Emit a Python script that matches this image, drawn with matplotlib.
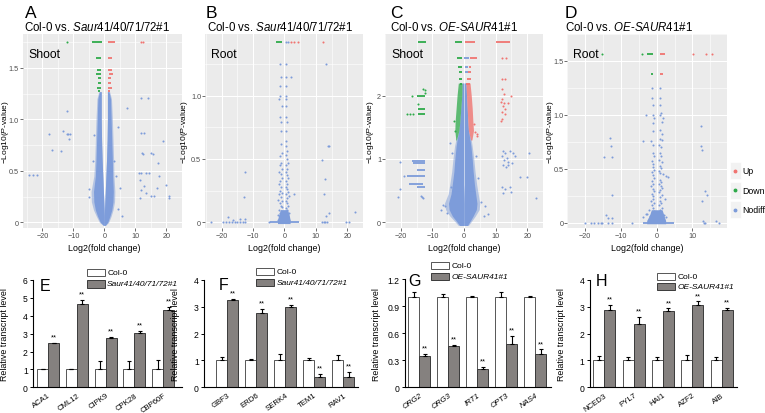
import matplotlib
matplotlib.use('Agg')
import matplotlib.pyplot as plt
import numpy as np
from matplotlib.patches import Rectangle
from matplotlib.lines import Line2D

# ---------------- DATA ----------------
# Panel A (Shoot, Col-0 vs Saur41/40/71/72#1)
A_core_y  = [1.27, 1.2, 1.0, 0.8, 0.6, 0.45, 0.3, 0.2, 0.12, 0.06, 0.0, -0.03]
A_core_lo = [-1.8, -2.4, -2.7, -2.9, -3.1, -3.4, -4.3, -4.2, -3.5, -2.6, -1.6, -0.4]
A_core_li = [-1.0, -1.0, -1.0, -0.9, -0.7, -0.5, -0.3, -0.15, -0.05, 0, 0, 0]
A_core_ri = [1.0, 1.0, 1.0, 0.9, 0.7, 0.5, 0.3, 0.15, 0.05, 0, 0, 0]
A_core_ro = [1.7, 2.3, 2.6, 2.8, 3.0, 3.1, 3.4, 3.3, 2.8, 2.2, 1.4, 0.4]
A_dense_lo = [-1.6, -2.1, -2.3, -2.5, -2.7, -2.9, -3.5, -3.4, -2.9, -2.2, -1.3, -0.3]
A_dense_ro = [1.5, 2.0, 2.2, 2.4, 2.6, 2.7, 2.9, 2.8, 2.4, 1.8, 1.1, 0.3]
A_down_row_y  = [1.756, 1.60, 1.48, 1.44, 1.40, 1.35, 1.31, 1.28]
A_down_row_x0 = [-3.9, -2.6, -2.4, -2.7, -1.9, -1.9, -2.4, -2.1]
A_down_row_x1 = [-0.8, -1.1, -1.1, -1.1, -1.1, -1.1, -1.1, -1.3]
A_up_row_y  = [1.756, 1.60, 1.48, 1.44, 1.40, 1.35, 1.31, 1.28]
A_up_row_x0 = [1.2, 1.2, 1.2, 1.4, 1.2, 1.2, 1.2, 1.2]
A_up_row_x1 = [3.3, 2.5, 2.5, 2.8, 2.3, 2.3, 2.5, 1.8]
A_down_x = [-12.0]
A_down_y = [1.756]
A_up_x = [11.8, 12.4]
A_up_y = [1.756, 1.756]
A_blue_x = [-12.2, -18.0, -13.4, -12.2, -11.6, -11.1, -11.4, -16.8, -13.9, -24.2, -23.2, -21.8,
            11.9, 7.2, 12.0, 14.1, 12.3, 15.2, 18.8, 17.2, 11.3, 12.0, 13.5, 14.3, 11.5, 17.7,
            12.8, 11.8, 13.6, 15.2, 17.0, 19.8, 20.8, 20.9, 11.5, 15.9, 5.0, 4.3, 5.7, 4.5,
            3.2, -4.8, -5.0, -3.8, 3.8, -3.5, 12.9, 15.7, 12.4]
A_blue_y = [1.08, 0.86, 0.89, 0.86, 0.86, 0.86, 0.81, 0.70, 0.69, 0.46, 0.46, 0.46,
            0.87, 1.11, 1.21, 1.21, 0.67, 0.67, 0.79, 0.58, 0.48, 0.48, 0.48, 0.48, 0.41, 0.45,
            0.35, 0.31, 0.28, 0.26, 0.33, 0.36, 0.26, 0.24, 0.24, 0.26, 0.33, 0.13, 0.06, 0.93,
            0.60, 0.25, 0.32, 0.60, 0.45, 0.85, 0.87, 0.66, 0.66]

# Panel B (Root, Col-0 vs Saur41/40/71/72#1)
B_core_y  = [0.10, 0.06, 0.02, -0.01]
B_core_lo = [-1.2, -1.8, -2.2, -2.2]
B_core_ro = [1.0, 1.5, 1.8, 1.8]
B_down_row_y, B_down_row_x0, B_down_row_x1 = [1.426], [-2.6], [-0.7]
B_up_x = [2.1, 3.2, 4.2, 12.3]
B_up_y = [1.426, 1.426, 1.426, 1.426]
B_base_row_y, B_base_row_x0, B_base_row_x1 = [0.0], [-4.7], [4.7]
B_blue_x = [0.5, 1.2, -1.4, 0.5, 13.2, -1.05, 0.5, 2.1, -1.4, 0.5, -1.4, 0.5, -1.8, 0.5,
            -0.7, 0.5, -1.4, 0.5, -1.05, 0.7, -1.05, 0.5, 0.5, 14.0, 12.1,
            -1.2, -0.9, -1.5, -1.0, -1.3, -0.8, -1.6, -1.1, -0.9, -1.4, -1.8, -1.0, -1.3, -0.7,
            -1.6, -1.1, -2.0, -0.9, -1.4, -1.2, -0.8, -1.6, -1.0, -1.3, -2.2, -0.9, -1.5, -1.1,
            -0.6, -1.9,
            0.6, 0.9, 0.5, 0.8, 1.0, 0.6, 0.9, 0.5, 0.7, 1.1, 0.6, 0.9, 0.5, 0.8, 1.2, 0.6, 1.6,
            0.9, 0.5, 0.7, 1.1, 0.6, 0.9, 0.5, 1.3, 0.7, 1.0, 0.6, 1.4, 0.8,
            3.2, -12.4, -12.8, 13.0, 12.6, 13.2, 14.2, 22.4, 14.2, -17.9, -14.2, -12.6, -16.5,
            -23.5, -19.5, -18.5, -17.6, -16.7, -15.8, -15.0, -14.2, -13.3, -12.4, -5.0, 12.1,
            12.6, 13.0, 13.7, 19.5, 20.5]
B_blue_y = [1.426, 1.426, 1.247, 1.247, 1.247, 1.145, 1.145, 1.145, 1.074, 1.074, 1.0, 1.0, 0.97, 0.97,
            0.92, 0.92, 0.83, 0.83, 0.795, 0.795, 0.72, 0.72, 0.645, 0.605, 0.49,
            0.62, 0.55, 0.52, 0.47, 0.45, 0.42, 0.40, 0.38, 0.35, 0.33, 0.30, 0.28, 0.25, 0.23,
            0.22, 0.20, 0.18, 0.17, 0.15, 0.13, 0.12, 0.10, 0.09, 0.07, 0.06, 0.05, 0.04, 0.03,
            0.02, 0.02,
            0.60, 0.56, 0.53, 0.50, 0.47, 0.45, 0.42, 0.40, 0.37, 0.35, 0.33, 0.30, 0.28, 0.26, 0.24,
            0.22, 0.21, 0.19, 0.17, 0.15, 0.13, 0.11, 0.10, 0.08, 0.07, 0.05, 0.04, 0.03, 0.02, 0.01,
            0.22, 0.40, 0.20, 0.34, 0.22, 0.05, 0.07, 0.08, 0.60, 0.04, 0.03, 0.03, 0.02,
            0.0, 0.0, 0.0, 0.0, 0.0, 0.0, 0.0, 0.0, 0.0, 0.0, 0.0, 0.0,
            0.0, 0.0, 0.0, 0.0, 0.0]

# Panel C (Shoot, Col-0 vs OE-SAUR41#1)
C_core_y  = [2.2, 2.0, 1.8, 1.6, 1.45, 1.3, 1.2, 1.0, 0.8, 0.6, 0.45, 0.3, 0.2, 0.1, 0.03, -0.05]
C_core_lo = [-0.6, -0.7, -1.0, -1.3, -1.6, -2.6, -3.0, -3.5, -3.9, -4.5, -5.0, -6.2, -5.8, -4.5, -3.2, -1.8]
C_core_li = [-0.1, -0.1, -0.1, -0.1, -0.1, -0.1, -0.1, -0.1, -0.1, -0.1, -0.05, 0, 0, 0, 0, 0]
C_core_ri = [0.1, 0.1, 0.1, 0.1, 0.1, 0.1, 0.1, 0.1, 0.1, 0.1, 0.05, 0, 0, 0, 0, 0]
C_core_ro = [0.6, 0.8, 1.0, 1.2, 1.4, 2.3, 2.6, 3.1, 3.5, 4.0, 4.5, 5.0, 4.8, 3.6, 2.6, 1.4]
C_dense_lo = [-0.6, -0.7, -1.0, -1.3, -1.6, -2.2, -2.5, -2.9, -3.2, -3.7, -4.1, -4.9, -4.7, -3.7, -2.6, -1.4]
C_dense_ro = [0.6, 0.8, 1.0, 1.2, 1.4, 1.9, 2.2, 2.6, 2.9, 3.3, 3.7, 4.1, 3.9, 2.9, 2.1, 1.1]
C_band_y = [2.2, 2.0, 1.8, 1.6, 1.45, 1.3]
C_down_band_lo = [-1.8, -2.2, -2.5, -2.8, -2.9, -2.6]
C_down_band_hi = [-0.6, -0.7, -1.0, -1.3, -1.6, -2.4]
C_up_band_lo = [0.6, 0.8, 1.0, 1.2, 1.4, 2.1]
C_up_band_hi = [1.9, 2.3, 2.6, 2.8, 3.0, 2.5]
C_down_row_y  = [2.853, 2.853, 2.59, 2.45, 2.37, 2.26, 2.18, 1.99, 1.79, 1.71]
C_down_row_x0 = [-14.5, -2.9, -2.2, -1.9, -1.5, -1.5, -1.2, -15.0, -14.5, -14.5]
C_down_row_x1 = [-12.0, -0.7, -0.5, -0.7, -0.5, -0.5, -0.5, -12.5, -12.5, -12.3]
C_up_row_y  = [2.853, 2.853, 2.59, 2.45, 2.37, 2.26, 2.18]
C_up_row_x0 = [0.3, 10.0, 1.8, 1.5, 1.3, 0.8, 0.7]
C_up_row_x1 = [3.5, 14.6, 4.0, 2.3, 2.1, 2.1, 1.8]
C_blue_row_y  = [2.59, 2.45, 2.37, 0.97, 0.93, 0.82, 0.73, 0.61, 0.55]
C_blue_row_x0 = [0.1, 0.3, 0.3, -16.5, -16.0, -15.0, -18.0, -17.5, -15.0]
C_blue_row_x1 = [1.5, 1.3, 1.3, -12.5, -12.2, -12.2, -12.2, -13.0, -12.5]
C_down_x = [-14.7, -13.0, -12.5, -12.3, -16.5, -18.0, -17.0, -16.2, -3.3, -3.0]
C_down_y = [1.87, 2.10, 2.09, 2.05, 1.99, 1.71, 1.71, 1.71, 1.60, 1.45]
C_up_x = [12.1, 12.9, 12.0, 12.6, 14.9, 12.1, 11.7, 12.3, 12.9, 12.0, 12.1, 12.8, 13.9, 13.1,
          11.7, 12.0, 13.3, 4.2, 3.2, 3.5, 4.0]
C_up_y = [2.26, 2.26, 2.10, 2.03, 2.00, 1.95, 1.90, 1.84, 1.79, 1.74, 1.63, 1.89, 1.89, 1.71,
          1.60, 2.59, 2.59, 1.39, 1.55, 1.42, 1.36]
C_blue_x = [-20.1, -20.4, -21.0, -13.5, -13.0, -13.3, -19.0,
            12.3, 13.0, 14.7, 15.5, 12.0, 13.5, 12.6, 14.0, 15.2, 12.2, 13.3, 20.5, 17.6, 20.0,
            12.0, 13.0, 14.5, 12.5, 15.0, 22.8, 13.8, 16.0,
            -4.4, -6.0, -6.5, -5.5, 5.5, 6.5, 7.5, -4.0, 4.5, 3.8, -3.9, -7.2, 6.2]
C_blue_y = [0.95, 0.53, 0.40, 0.42, 0.38, 0.40, 0.73,
            1.13, 1.10, 1.12, 1.10, 1.05, 1.02, 0.98, 0.96, 0.94, 0.90, 0.88, 1.10, 0.71, 0.71,
            0.55, 0.53, 0.55, 0.47, 0.48, 0.38, 0.90, 1.05,
            1.26, 0.25, 0.28, 0.15, 0.32, 0.26, 0.13, 0.55, 0.70, 1.05, 1.10, 0.20, 0.10]

# Panel D (Root, Col-0 vs OE-SAUR41#1)
D_core_y  = [0.12, 0.07, 0.02, -0.01]
D_core_lo = [-1.5, -2.0, -2.8, -2.8]
D_core_ro = [1.5, 2.0, 2.5, 2.5]
D_down_row_y, D_down_row_x0, D_down_row_x1 = [1.563, 1.377], [-2.6, -1.5], [-0.9, -0.9]
D_up_row_y, D_up_row_x0, D_up_row_x1 = [1.563, 1.377], [0.9, 0.9], [2.2, 1.9]
D_base_row_y, D_base_row_x0, D_base_row_x1 = [0.0], [-3.9], [4.8]
D_down_x = [-15.2, -4.1]
D_down_y = [1.563, 1.563]
D_up_x = [10.2, 13.9, 15.4]
D_up_y = [1.563, 1.563, 1.563]
D_blue_x = [-1.3, 1.0, -1.3, 1.0, -0.9, 1.0, -3.0, -0.9, 0.9, 1.3, -0.8, 1.8, 1.4, -0.9, -1.0, 0.8,
            1.5, 0.9, 1.6, -1.5, -3.9, -1.0, 0.7, 1.1, 12.4, 12.4, 12.8, -13.0, -12.8, -14.8, -12.6,
            -1.0, -0.8, -1.3, -0.9, -1.1, -0.7, -1.4, -1.0, -0.8, -1.2, -0.9, -1.5, -1.0, -0.7,
            -1.3, -0.9, -1.1, -1.6, -0.8, -1.2, -1.0, -2.2, -0.7, -1.4, -0.9, -1.8, -1.1, -3.0,
            -0.6, -1.5,
            0.8, 1.1, 0.7, 1.4, 0.9, 1.2, 0.6, 1.0, 1.8, 2.7, 3.2, 0.8, 1.3, 0.7, 1.1, 1.6, 0.9,
            0.6, 1.4, 1.0, 2.4, 0.8, 1.2, 0.7, 1.5, 1.0, 0.6, 1.3, 2.0, 0.8, 1.1, 0.5, 1.7, 2.5,
            -12.6, -14.3, -13.5, -12.6, 12.6, 13.5, 14.1, 12.9, 16.5, -3.8, -2.8,
            -20.0, -18.3, -17.4, -16.5, -15.7, -15.2, -13.5, -12.6, -7.0, 13.1, 13.4, 17.4]
D_blue_y = [1.25, 1.25, 1.16, 1.16, 1.09, 1.09, 1.00, 1.00, 1.00, 1.02, 0.97, 0.97, 0.93, 0.92, 0.85,
            0.86, 0.82, 0.78, 0.77, 0.76, 0.76, 0.72, 0.72, 0.70, 0.90, 0.71, 0.67, 0.79, 0.71, 0.61,
            0.61,
            0.65, 0.62, 0.57, 0.54, 0.52, 0.49, 0.47, 0.44, 0.41, 0.39, 0.36, 0.34, 0.31, 0.29,
            0.27, 0.25, 0.22, 0.20, 0.18, 0.16, 0.14, 0.12, 0.11, 0.09, 0.08, 0.06, 0.05, 0.08,
            0.03, 0.02,
            0.65, 0.62, 0.58, 0.56, 0.53, 0.51, 0.48, 0.46, 0.45, 0.43, 0.42, 0.40, 0.38, 0.36,
            0.34, 0.32, 0.30, 0.28, 0.26, 0.24, 0.22, 0.20, 0.18, 0.16, 0.14, 0.12, 0.10, 0.09,
            0.07, 0.06, 0.04, 0.03, 0.02, 0.05,
            0.26, 0.07, 0.04, 0.04, 0.20, 0.29, 0.26, 0.02, 0.02, 0.05, 0.08,
            0.0, 0.0, 0.0, 0.0, 0.0, 0.0, 0.0, 0.0, 0.0, 0.0, 0.0, 0.0]

# Bar charts
E_genes = ['ACA1', 'CML12', 'CIPK9', 'CPK28', 'CBP60F']
E_col = [1.0, 1.0, 1.0, 1.0, 1.0]
E_col_err = [0.05, 0.03, 0.45, 0.45, 0.5]
E_mut = [2.47, 4.66, 2.76, 3.04, 4.34]
E_mut_err = [0.03, 0.2, 0.05, 0.13, 0.17]

F_genes = ['GBF3', 'ERD6', 'SERK4', 'TEM1', 'RAV1']
F_col = [1.0, 1.0, 1.0, 1.0, 1.0]
F_col_err = [0.14, 0.07, 0.23, 0.11, 0.22]
F_mut = [3.25, 2.78, 2.99, 0.37, 0.37]
F_mut_err = [0.03, 0.15, 0.07, 0.13, 0.21]

G_genes = ['ORG2', 'ORG3', 'IRT1', 'OPT3', 'NAS4']
G_col = [1.0, 1.0, 1.0, 1.0, 1.0]
G_col_err = [0.06, 0.03, 0.008, 0.06, 0.012]
G_mut = [0.35, 0.46, 0.20, 0.48, 0.37]
G_mut_err = [0.02, 0.01, 0.03, 0.085, 0.05]

H_genes = ['NCED3', 'PYL7', 'HAI1', 'AZF2', 'AIB']
H_col = [1.0, 1.0, 1.0, 1.0, 1.0]
H_col_err = [0.17, 0.12, 0.12, 0.22, 0.12]
H_mut = [2.88, 2.36, 2.83, 3.07, 2.88]
H_mut_err = [0.2, 0.25, 0.11, 0.13, 0.09]

# ---------------- STYLE ----------------
W, H = 765, 414
plt.rcParams['font.family'] = ['Liberation Sans', 'DejaVu Sans']
plt.rcParams['mathtext.fontset'] = 'custom'
plt.rcParams['mathtext.rm'] = 'Liberation Sans'
plt.rcParams['mathtext.it'] = 'Liberation Sans:italic'
plt.rcParams['axes.unicode_minus'] = True

BLUE = '#7D9CDA'
GREEN = '#2EAA4A'
RED = '#F07471'
BG = '#EBEBEB'

fig = plt.figure(figsize=(W / 100, H / 100), dpi=100)


def add_ax(l, t, r, b):
    return fig.add_axes([l / W, 1 - b / H, (r - l) / W, (b - t) / H])


def lim_from(p1, v1, p2, v2, a, b):
    s = (v2 - v1) / (p2 - p1)
    return (v1 + (a - p1) * s, v1 + (b - p1) * s)


def ftext(x, y, s, **kw):
    return fig.text(x / W, 1 - y / H, s, **kw)


def volcano(box, xref, yref, xticks, yticks, yticklabels):
    l, t, r, b = box
    ax = add_ax(l, t, r, b)
    ax.set_xlim(*lim_from(xref[0][1], xref[0][0], xref[1][1], xref[1][0], l, r))
    ax.set_ylim(*lim_from(yref[0][1], yref[0][0], yref[1][1], yref[1][0], b, t))
    ax.set_facecolor(BG)
    for s in ax.spines.values():
        s.set_visible(False)
    ax.set_xticks(xticks)
    ax.set_yticks(yticks)
    ax.set_yticklabels(yticklabels)
    dx = xticks[1] - xticks[0]
    dy = yticks[1] - yticks[0]
    ax.set_xticks([xticks[0] - dx / 2] + [v + dx / 2 for v in xticks], minor=True)
    ax.set_yticks([v + dy / 2 for v in yticks], minor=True)
    ax.grid(which='major', color='white', lw=0.75)
    ax.grid(which='minor', color='white', lw=0.4)
    ax.set_axisbelow(True)
    ax.tick_params(which='major', length=2, width=0.5, color='#333333', labelsize=5.2,
                   labelcolor='#4D4D4D', pad=0.8)
    ax.tick_params(which='minor', length=0)
    return ax


def pts(ax, x, y, c):
    ax.scatter(x, y, s=2.2, c=c, linewidths=0, zorder=4)


def rows(ax, y, x0, x1, c):
    ax.hlines(y, x0, x1, colors=c, lw=1.3, zorder=4)


def core(ax, y, lo, li, ri, ro, dlo, dro):
    # light fringe (sparser outer points) then dense body
    ax.fill_betweenx(y, lo, li, color=BLUE, lw=0, zorder=3, alpha=0.5)
    ax.fill_betweenx(y, ri, ro, color=BLUE, lw=0, zorder=3, alpha=0.5)
    ax.fill_betweenx(y, dlo, li, color=BLUE, lw=0, zorder=3)
    ax.fill_betweenx(y, ri, dro, color=BLUE, lw=0, zorder=3)


# ---- Panel A
axA = volcano((22.7, 35, 181.7, 229), [(-20, 43.3), (20, 172.3)], [(0, 223.3), (1.5, 69)],
              [-20, -10, 0, 10, 20], [0, 0.5, 1.0, 1.5], ['0', '0.5', '1.0', '1.5'])
core(axA, A_core_y, A_core_lo, A_core_li, A_core_ri, A_core_ro, A_dense_lo, A_dense_ro)
rows(axA, A_down_row_y, A_down_row_x0, A_down_row_x1, GREEN)
rows(axA, A_up_row_y, A_up_row_x0, A_up_row_x1, RED)
pts(axA, A_down_x, A_down_y, GREEN)
pts(axA, A_up_x, A_up_y, RED)
pts(axA, A_blue_x, A_blue_y, BLUE)

# ---- Panel B
axB = volcano((205, 35, 363, 229), [(-20, 221.7), (20, 348.3)], [(0, 223.3), (1.0, 96.7)],
              [-20, -10, 0, 10, 20], [0, 0.5, 1.0], ['0', '0.5', '1.0'])
axB.fill_betweenx(B_core_y, B_core_lo, B_core_ro, color=BLUE, lw=0, zorder=3)
rows(axB, B_base_row_y, B_base_row_x0, B_base_row_x1, BLUE)
rows(axB, B_down_row_y, B_down_row_x0, B_down_row_x1, GREEN)
pts(axB, B_up_x, B_up_y, RED)
pts(axB, B_blue_x, B_blue_y, BLUE)

# ---- Panel C
axC = volcano((385, 35, 543, 229), [(-20, 394.3), (20, 529.3)], [(0, 223.3), (2, 96.7)],
              [-20, -10, 0, 10, 20], [0, 1, 2], ['0', '1', '2'])
core(axC, C_core_y, C_core_lo, C_core_li, C_core_ri, C_core_ro, C_dense_lo, C_dense_ro)
axC.fill_betweenx(C_band_y, C_down_band_lo, C_down_band_hi, color=GREEN, lw=0, zorder=3, alpha=0.75)
axC.fill_betweenx(C_band_y, C_up_band_lo, C_up_band_hi, color=RED, lw=0, zorder=3, alpha=0.8)
rows(axC, C_blue_row_y, C_blue_row_x0, C_blue_row_x1, BLUE)
rows(axC, C_down_row_y, C_down_row_x0, C_down_row_x1, GREEN)
rows(axC, C_up_row_y, C_up_row_x0, C_up_row_x1, RED)
pts(axC, C_down_x, C_down_y, GREEN)
pts(axC, C_up_x, C_up_y, RED)
pts(axC, C_blue_x, C_blue_y, BLUE)

# ---- Panel D
axD = volcano((567.3, 35, 726.7, 229), [(-20, 575), (10, 690)], [(0, 223.3), (1.5, 50)],
              [-20, -10, 0, 10], [0, 0.5, 1.0, 1.5], ['0', '0.5', '1.0', '1.5'])
axD.fill_betweenx(D_core_y, D_core_lo, D_core_ro, color=BLUE, lw=0, zorder=3)
rows(axD, D_base_row_y, D_base_row_x0, D_base_row_x1, BLUE)
rows(axD, D_down_row_y, D_down_row_x0, D_down_row_x1, GREEN)
rows(axD, D_up_row_y, D_up_row_x0, D_up_row_x1, RED)
pts(axD, D_down_x, D_down_y, GREEN)
pts(axD, D_up_x, D_up_y, RED)
pts(axD, D_blue_x, D_blue_y, BLUE)

# volcano texts
for (lx, tx, letter, title, tissue, sx, ylx, xlc) in [
        (24.5, 24, 'A', r'Col-0 vs. $\mathit{Saur41/40/71/72}$#1', 'Shoot', 28, 5.3, 104),
        (206, 206.7, 'B', r'Col-0 vs. $\mathit{Saur41/40/71/72}$#1', 'Root', 210.7, 185, 284),
        (390, 390, 'C', r'Col-0 vs. $\mathit{OE}$-$\mathit{SAUR41}$#1', 'Shoot', 391.7, 371, 464),
        (565, 565, 'D', r'Col-0 vs. $\mathit{OE}$-$\mathit{SAUR41}$#1', 'Root', 573.3, 551, 647)]:
    ftext(lx, 13.5, letter, fontsize=12.5, ha='left', va='center')
    ftext(tx, 27.5, title, fontsize=8.3, ha='left', va='center')
    ftext(sx, 55, tissue, fontsize=8.8, ha='left', va='center')
    ftext(ylx, 132, '\u2212Log10($\\mathit{P}$-value)', fontsize=6.0, rotation=90,
          ha='center', va='center')
    ftext(xlc, 248.3, 'Log2(fold change)', fontsize=6.4, ha='center', va='center')

# D legend
for yc, lab, c in [(171.7, 'Up', RED), (191, 'Down', GREEN), (210.7, 'Nodiff', BLUE)]:
    fig.add_artist(Rectangle((729.5 / W, 1 - (yc + 8.5) / H), 11.5 / W, 17 / H,
                             transform=fig.transFigure, facecolor='#F2F2F2', edgecolor='white', lw=0.5))
    fig.add_artist(Line2D([735.3 / W], [1 - yc / H], marker='o', ms=1.8, color=c, lw=0,
                          transform=fig.transFigure))
    ftext(742.5, yc, lab, fontsize=6.3, ha='left', va='center')


# ---- Bar charts
def bar_panel(box, first_c, spacing, genes, col, col_err, mut, mut_err, ymax, yticks, ytl,
              letter, letter_xy, leg_x, leg_y, mut_label, italic=False):
    l, t, r, b = box
    ax = add_ax(l, t, r, b)
    x = np.arange(len(genes))
    ax.set_xlim((l - first_c) / spacing, (r - first_c) / spacing)
    ax.set_ylim(0, ymax)
    bw = 11.0 / spacing
    ax.bar(x - bw / 2, col, width=bw, color='white', edgecolor='#555555', lw=0.7, zorder=2)
    ax.bar(x + bw / 2, mut, width=bw, color='#85817F', edgecolor='#3A3A3A', lw=0.7, zorder=2)
    z = np.zeros(len(genes))
    ax.errorbar(x - bw / 2, col, yerr=[z, col_err], fmt='none', ecolor='black', elinewidth=0.8,
                capsize=1.6, capthick=0.8, zorder=3)
    ax.errorbar(x + bw / 2, mut, yerr=[z, mut_err], fmt='none', ecolor='black', elinewidth=0.8,
                capsize=1.6, capthick=0.8, zorder=3)
    off = ymax * 2.5 / (b - t)
    for xi, v, e in zip(x, mut, mut_err):
        ax.text(xi + bw / 2, v + e + off, '**', ha='center', va='bottom', fontsize=5.5)
    for s in ['top', 'right']:
        ax.spines[s].set_visible(False)
    for s in ['left', 'bottom']:
        ax.spines[s].set_linewidth(0.8)
    ax.set_yticks(yticks)
    ax.set_yticklabels(ytl)
    ax.set_xticks(x)
    ax.set_xticklabels(genes, rotation=35, ha='right', va='top', rotation_mode='anchor',
                       fontsize=5.6, fontstyle='italic' if italic else 'normal')
    ax.tick_params(axis='y', length=2.5, width=0.7, labelsize=6.2, pad=1.5)
    ax.tick_params(axis='x', length=0, pad=3)
    ax.patch.set_alpha(0)
    ftext(letter_xy[0], letter_xy[1], letter, fontsize=11.5, ha='left', va='center')
    ftext(l - 28.5, (t + b) / 2, 'Relative transcript level', fontsize=6.4, rotation=90,
          ha='center', va='center')
    for yc, fc, ec, lab, sty in [(leg_y[0], 'white', '#555555', 'Col-0', 'normal'),
                                 (leg_y[1], '#85817F', '#3A3A3A', mut_label, 'italic')]:
        fig.add_artist(Rectangle((leg_x / W, 1 - (yc + 3.6) / H), 18 / W, 7.2 / H,
                                 transform=fig.transFigure, facecolor=fc, edgecolor=ec, lw=0.7))
        ftext(leg_x + 20.5, yc, lab, fontsize=6, ha='left', va='center', fontstyle=sty)
    return ax


bar_panel((33.3, 281, 182, 388.3), 48, 28.8, E_genes, E_col, E_col_err, E_mut, E_mut_err,
          6, [0, 1, 2, 3, 4, 5, 6], ['0', '1', '2', '3', '4', '5', '6'],
          'E', (39.5, 287), 86.7, (273.5, 285), 'Saur41/40/71/72#1')
bar_panel((204.3, 281, 358, 388.3), 227.3, 29, F_genes, F_col, F_col_err, F_mut, F_mut_err,
          4, [0, 1, 2, 3, 4], ['0', '1', '2', '3', '4'],
          'F', (219, 285.5), 256, (272.5, 283.5), 'Saur41/40/71/72#1')
bar_panel((405, 280, 550.7, 388.3), 419.3, 29, G_genes, G_col, G_col_err, G_mut, G_mut_err,
          1.2, [0, 0.3, 0.6, 0.9, 1.2], ['0', '0.3', '0.6', '0.9', '1.2'],
          'G', (408, 281), 430.7, (266.7, 277.3), 'OE-SAUR41#1', italic=True)
bar_panel((590, 281, 736.7, 388.3), 604.3, 29.3, H_genes, H_col, H_col_err, H_mut, H_mut_err,
          4, [0, 1, 2, 3, 4], ['0', '1', '2', '3', '4'],
          'H', (596, 282), 657.3, (277.5, 287.5), 'OE-SAUR41#1')

fig.savefig('out.png', dpi=100)
